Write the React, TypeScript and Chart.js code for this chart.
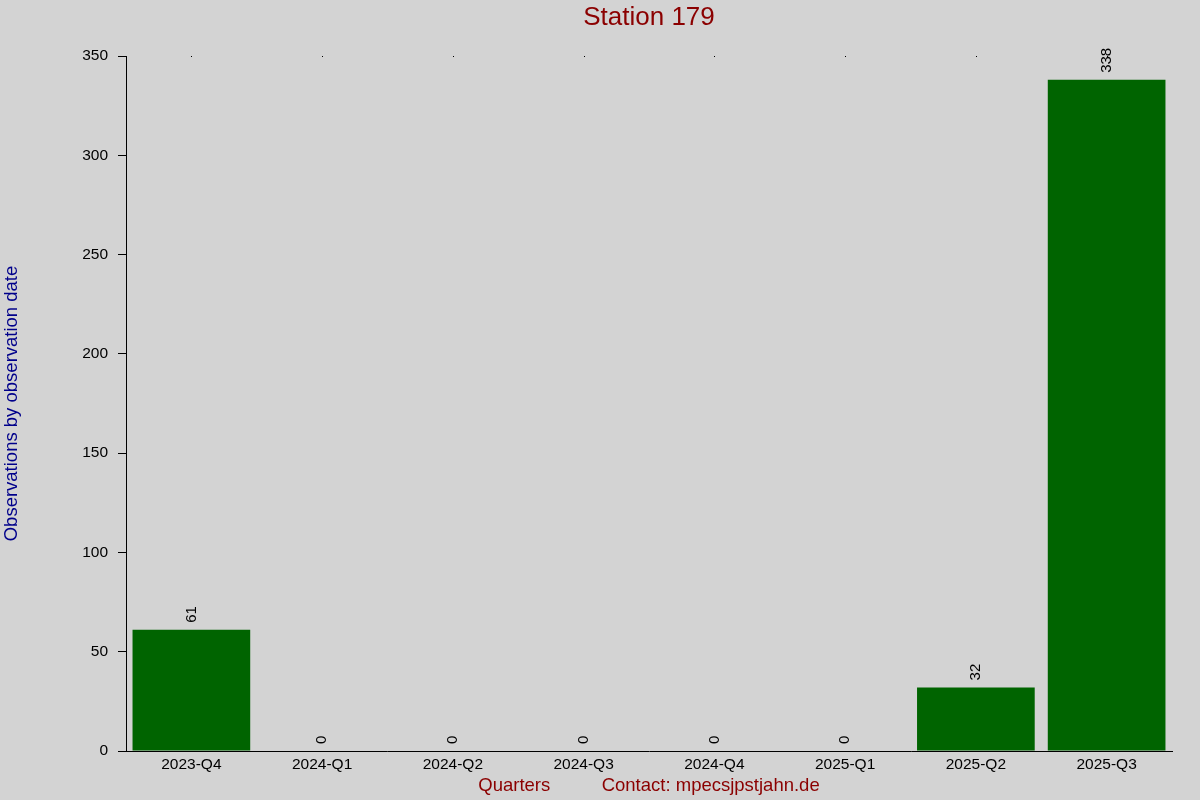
import React, { useEffect, useRef } from "react";
import { Chart, registerables, Plugin } from "chart.js";

Chart.register(...registerables);

const quarters = [
  "2023-Q4",
  "2024-Q1",
  "2024-Q2",
  "2024-Q3",
  "2024-Q4",
  "2025-Q1",
  "2025-Q2",
  "2025-Q3",
];
const observations = [61, 0, 0, 0, 0, 0, 32, 338];
const yTicks = [0, 50, 100, 150, 200, 250, 300, 350];

const FONT = "'Liberation Sans', Arial, sans-serif";

// paints the grey page background
const background: Plugin<"bar"> = {
  id: "bg",
  beforeDraw(chart) {
    const { ctx, width, height } = chart;
    ctx.save();
    ctx.fillStyle = "#d3d3d3";
    ctx.fillRect(0, 0, width, height);
    ctx.restore();
  },
};

// rotated value labels above each bar, plus small dots along the top edge
const barLabels: Plugin<"bar"> = {
  id: "barLabels",
  afterDatasetsDraw(chart) {
    const { ctx } = chart;
    const meta = chart.getDatasetMeta(0);
    const yScale = chart.scales.y;
    const xScale = chart.scales.x;
    ctx.save();
    ctx.font = `15px ${FONT}`;
    ctx.fillStyle = "#000";
    meta.data.forEach((bar, i) => {
      const { x, y } = bar.getProps(["x", "y"], true) as { x: number; y: number };
      ctx.save();
      ctx.translate(x, y - 7);
      ctx.rotate(-Math.PI / 2);
      ctx.textAlign = "left";
      ctx.textBaseline = "middle";
      ctx.fillText(String(observations[i]), 0, 0);
      ctx.restore();
    });
    const topY = Math.round(yScale.getPixelForValue(yTicks[yTicks.length - 1]));
    quarters.forEach((_, i) => {
      const cx = Math.round(xScale.getPixelForValue(i));
      ctx.fillRect(cx, topY, 1, 1);
    });
    ctx.restore();
  },
};

export default function App() {
  const canvasRef = useRef<HTMLCanvasElement>(null);
  const chartRef = useRef<Chart | null>(null);

  useEffect(() => {
    if (!canvasRef.current) return;
    if (chartRef.current) chartRef.current.destroy();

    chartRef.current = new Chart(canvasRef.current, {
      type: "bar",
      data: {
        labels: quarters,
        datasets: [
          {
            data: observations,
            backgroundColor: "#006400",
            borderWidth: 0,
            categoryPercentage: 1,
            barPercentage: 0.9,
          },
        ],
      },
      options: {
        responsive: false,
        animation: false,
        devicePixelRatio: 1,
        layout: { padding: { left: 0, right: 28, top: 0, bottom: 0 } },
        plugins: {
          legend: { display: false },
          tooltip: { enabled: false },
          title: {
            display: true,
            text: "Station 179",
            color: "#8b0000",
            fullSize: false,
            font: { family: FONT, size: 26, weight: "normal" },
            padding: { top: 2.4, bottom: 22.4 },
          },
        },
        scales: {
          x: {
            afterFit(scale) {
              scale.height = 49;
            },
            grid: { drawOnChartArea: false, drawTicks: false },
            border: { display: true, color: "#000", width: 1 },
            ticks: {
              color: "#000",
              padding: 4,
              maxRotation: 0,
              autoSkip: false,
              font: { family: FONT, size: 15.5 },
            },
            title: {
              display: true,
              text: "Quarters          Contact: mpecsjpstjahn.de",
              color: "#8b0000",
              font: { family: FONT, size: 18.5 },
              padding: { top: 0, bottom: 3 },
            },
          },
          y: {
            min: 0,
            max: 350,
            afterFit(scale) {
              scale.width = 126;
            },
            afterBuildTicks(scale) {
              scale.ticks = yTicks.map((v) => ({ value: v }));
            },
            grid: {
              drawOnChartArea: false,
              drawTicks: true,
              tickLength: 8,
              color: "#000",
            },
            border: { display: true, color: "#000", width: 1 },
            ticks: {
              color: "#000",
              padding: 10,
              font: { family: FONT, size: 15.5 },
            },
            title: {
              display: true,
              text: "Observations by observation date",
              color: "#00008b",
              font: { family: FONT, size: 18.5 },
              padding: { top: 1, bottom: 0 },
            },
          },
        },
      },
      plugins: [background, barLabels],
    });

    return () => {
      if (chartRef.current) {
        chartRef.current.destroy();
        chartRef.current = null;
      }
    };
  }, []);

  return (
    <div style={{ position: "absolute", left: 0, top: 0, width: 1200, height: 800 }}>
      <canvas ref={canvasRef} width={1200} height={800} />
    </div>
  );
}
